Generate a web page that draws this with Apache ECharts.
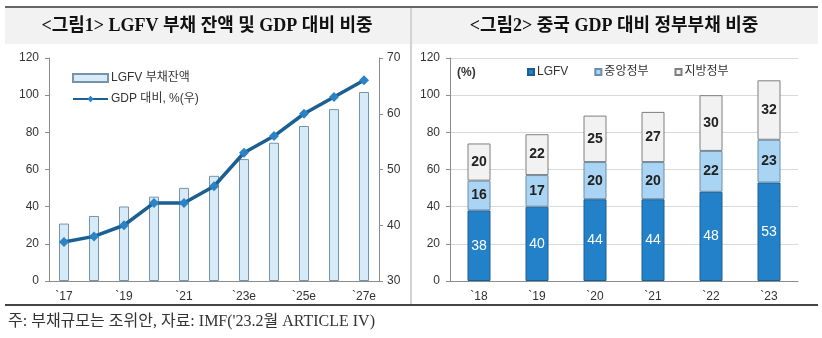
<!DOCTYPE html>
<html><head><meta charset="utf-8">
<script src="https://cdn.jsdelivr.net/npm/echarts@6/dist/echarts.min.js"></script>
<style>html,body{margin:0;padding:0;background:#fff}#c{width:822px;height:338px}</style>
</head><body><div id="c"></div>
<script>
const yearsL = ['`17','`18','`19','`20','`21','`22','`23e','`24e','`25e','`26e','`27e'];
const debtBal = [30.9, 35.0, 40.1, 45.4, 50.1, 56.6, 65.6, 74.4, 83.4, 92.5, 101.7];
const debtGdp = [37, 38, 40, 44, 44, 47, 53, 56, 60, 63, 66];
const yearsR = ['`18','`19','`20','`21','`22','`23'];
const lgfv = [38, 40, 44, 44, 48, 53];
const central = [16, 17, 20, 20, 22, 23];
const local = [20, 22, 25, 27, 30, 32];

const SANS = '"Liberation Sans", Arial, "Noto Sans CJK KR", sans-serif';
const SERIF = '"Liberation Serif", "Times New Roman", "Noto Sans CJK KR", serif';
const chart = echarts.init(document.getElementById('c'), null, {renderer:'canvas'});
const axLine = {lineStyle:{color:'#8c8c8c', width:1}};
const lbl = {color:'#333', fontSize:12, fontFamily:SANS};
chart.setOption({
  animation:false,
  textStyle:{fontFamily:SANS},
  graphic:[
    {type:'rect', shape:{x:5,y:8,width:405,height:36}, style:{fill:'#f2f2f2'}},
    {type:'rect', shape:{x:412,y:8,width:406,height:36}, style:{fill:'#f2f2f2'}},
    {type:'line', shape:{x1:5,y1:7,x2:818,y2:7}, style:{stroke:'#666', lineWidth:2}},
    {type:'line', shape:{x1:411,y1:8,x2:411,y2:305}, style:{stroke:'#a6a6a6', lineWidth:1}},
    {type:'line', shape:{x1:5,y1:305,x2:818,y2:305}, style:{stroke:'#444', lineWidth:2}},
    {type:'text', x:207, y:26, style:{text:'<그림1> LGFV 부채 잔액 및 GDP 대비 비중', fill:'#111', font:'bold 18px '+SERIF, align:'center', verticalAlign:'middle'}},
    {type:'text', x:614, y:26, style:{text:'<그림2> 중국 GDP 대비 정부부채 비중', fill:'#111', font:'bold 18px '+SERIF, align:'center', verticalAlign:'middle'}},
    {type:'text', x:8, y:322, style:{text:"주: 부채규모는 조위안, 자료: IMF('23.2월 ARTICLE IV)", fill:'#333', font:'16px '+SERIF, align:'left', verticalAlign:'middle'}},
    {type:'text', x:457, y:73, style:{text:'(%)', fill:'#333', font:'bold 12px '+SANS, align:'left', verticalAlign:'middle'}}
  ],
  legend:[
    {left:67, top:67, orient:'vertical', itemGap:9, itemWidth:35, itemHeight:8,
     textStyle:{color:'#333', fontSize:12, fontFamily:SANS, padding:[0,0,0,-2]},
     data:[{name:'LGFV 부채잔액', icon:'rect'}, {name:'GDP 대비, %(우)'}]},
    {left:522, top:61, orient:'horizontal', itemGap:26, itemWidth:6, itemHeight:6, icon:'rect',
     textStyle:{color:'#333', fontSize:12, fontFamily:SANS, padding:[0,0,0,-2]},
     data:['LGFV','중앙정부','지방정부']}
  ],
  grid:[
    {left:49, top:58, width:330, height:223},
    {left:450, top:58, width:348, height:223}
  ],
  xAxis:[
    {type:'category', gridIndex:0, data:yearsL, axisLine:axLine,
     axisTick:{interval:1, length:4, lineStyle:{color:'#8c8c8c'}},
     axisLabel:Object.assign({interval:1, margin:10}, lbl)},
    {type:'category', gridIndex:1, data:yearsR, axisLine:axLine,
     axisTick:{length:4, lineStyle:{color:'#8c8c8c'}},
     axisLabel:Object.assign({margin:10}, lbl)}
  ],
  yAxis:[
    {type:'value', gridIndex:0, min:0, max:120, interval:20, axisLine:Object.assign({show:true},axLine),
     axisTick:{show:true, length:4, lineStyle:{color:'#8c8c8c'}}, splitLine:{show:false}, axisLabel:Object.assign({margin:10},lbl)},
    {type:'value', gridIndex:0, position:'right', min:30, max:70, interval:10, axisLine:Object.assign({show:true},axLine),
     axisTick:{show:true, length:4, lineStyle:{color:'#8c8c8c'}}, splitLine:{show:false}, axisLabel:Object.assign({margin:8},lbl)},
    {type:'value', gridIndex:1, min:0, max:120, interval:20, axisLine:Object.assign({show:true},axLine),
     axisTick:{show:true, length:4, lineStyle:{color:'#8c8c8c'}}, splitLine:{show:true, lineStyle:{color:'#d9d9d9'}}, axisLabel:Object.assign({margin:10},lbl)}
  ],
  series:[
    {name:'LGFV 부채잔액', type:'bar', xAxisIndex:0, yAxisIndex:0, data:debtBal, barWidth:10,
     itemStyle:{color:'#d7eaf8', borderColor:'#7793aa', borderWidth:1}},
    {name:'GDP 대비, %(우)', type:'line', xAxisIndex:0, yAxisIndex:1, data:debtGdp,
     symbol:'diamond', symbolSize:10, lineStyle:{color:'#1c5f93', width:3.5},
     itemStyle:{color:'#2b83c6', borderColor:'#1c5f93', borderWidth:0}},
    {name:'LGFV', type:'bar', stack:'g', xAxisIndex:1, yAxisIndex:2, data:lgfv, barWidth:23,
     itemStyle:{color:'#2281c8', borderColor:'#1d5e90', borderWidth:1},
     label:{show:true, position:'inside', color:'#fff', fontSize:14, fontFamily:SANS}},
    {name:'중앙정부', type:'bar', stack:'g', xAxisIndex:1, yAxisIndex:2, data:central, barWidth:23,
     itemStyle:{color:'#a9d4f3', borderColor:'#6d8ea8', borderWidth:1},
     label:{show:true, position:'inside', color:'#222', fontSize:14, fontWeight:'bold', fontFamily:SANS}},
    {name:'지방정부', type:'bar', stack:'g', xAxisIndex:1, yAxisIndex:2, data:local, barWidth:23,
     itemStyle:{color:'#f2f2f2', borderColor:'#7f7f7f', borderWidth:1},
     label:{show:true, position:'inside', color:'#222', fontSize:14, fontWeight:'bold', fontFamily:SANS}}
  ]
});
</script></body></html>
